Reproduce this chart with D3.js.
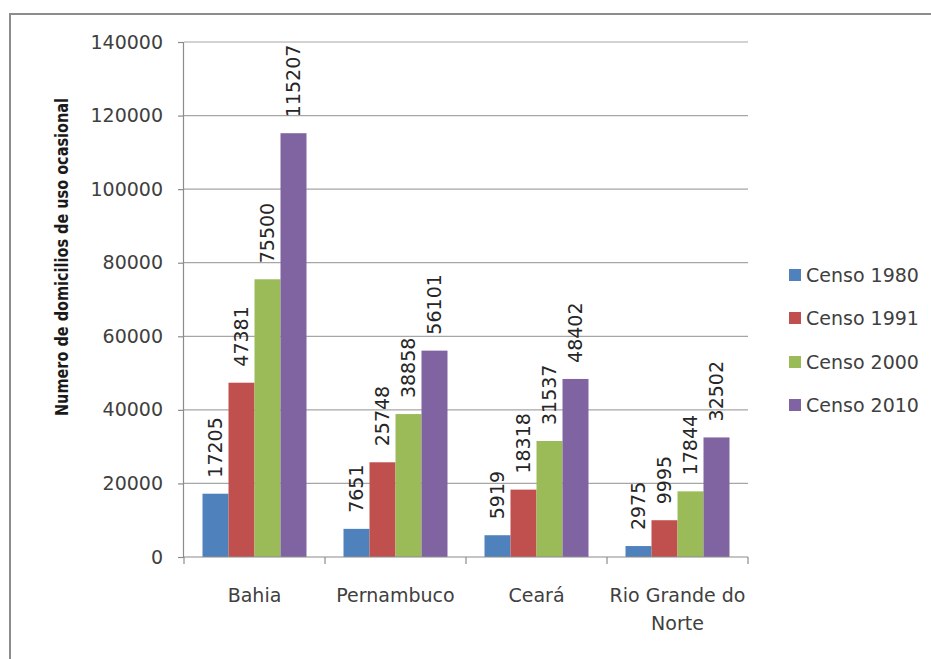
<!DOCTYPE html>
<html>
<head>
<meta charset="utf-8">
<script src="https://cdn.jsdelivr.net/npm/d3@7/dist/d3.min.js"></script>
<style>
  html, body { margin: 0; padding: 0; background: #fff; }
  svg { display: block; font-family: "DejaVu Sans", sans-serif; }
</style>
</head>
<body>
<svg id="chart" width="931" height="659"></svg>
<script>
const categories = ["Bahia", "Pernambuco", "Ceará", "Rio Grande do Norte"];
const categoryLines = [["Bahia"], ["Pernambuco"], ["Ceará"], ["Rio Grande do", "Norte"]];
const seriesNames = ["Censo 1980", "Censo 1991", "Censo 2000", "Censo 2010"];
const censo1980 = [17205, 7651, 5919, 2975];
const censo1991 = [47381, 25748, 18318, 9995];
const censo2000 = [75500, 38858, 31537, 17844];
const censo2010 = [115207, 56101, 48402, 32502];
const yTicks = [0, 20000, 40000, 60000, 80000, 100000, 120000, 140000];
const colors = ["#4F81BD", "#C0504D", "#9BBB59", "#8064A2"];
const yTitle = "Numero de domicilios de uso ocasional";

const seriesValues = [censo1980, censo1991, censo2000, censo2010];

const svg = d3.select("#chart");

// outer chart border
svg.append("rect")
  .attr("x", 10).attr("y", 14)
  .attr("width", 960).attr("height", 700)
  .attr("fill", "none")
  .attr("stroke", "#8c8c8c")
  .attr("stroke-width", 2);

const pLeft = 184, pRight = 748, pTop = 42, pBottom = 557;

const x0 = d3.scaleBand().domain(categories).range([pLeft, pRight]).padding(0);
const groupW = 104;
const x1 = d3.scaleBand().domain(seriesNames).range([0, groupW]).padding(0);
const y = d3.scaleLinear().domain([0, 140000]).range([pBottom, pTop]);

// gridlines
svg.append("g")
  .selectAll("line")
  .data(yTicks.filter(d => d > 0))
  .join("line")
  .attr("x1", pLeft).attr("x2", pRight)
  .attr("y1", d => y(d)).attr("y2", d => y(d))
  .attr("stroke", "#a6a6a6")
  .attr("stroke-width", 1.2);

// y axis
const yAxis = svg.append("g")
  .attr("transform", `translate(${pLeft - 1},0)`)
  .call(d3.axisLeft(y).tickValues(yTicks).tickFormat(d3.format("d")).tickSize(5).tickPadding(15));
yAxis.select(".domain").attr("stroke", "#8c8c8c").attr("stroke-width", 1.2);
yAxis.selectAll(".tick line").attr("stroke", "#8c8c8c").attr("stroke-width", 1.2);
yAxis.selectAll(".tick text")
  .attr("font-family", "DejaVu Sans, sans-serif")
  .attr("font-size", 19)
  .attr("fill", "#404040");

// bars
const bars = svg.append("g");
seriesNames.forEach((s, si) => {
  const vals = seriesValues[si];
  const off = (x0.bandwidth() - groupW) / 2;
  bars.append("g")
    .selectAll("rect")
    .data(categories.map((c, ci) => ({ c, v: vals[ci] })))
    .join("rect")
    .attr("x", d => x0(d.c) + off + x1(s))
    .attr("y", d => y(d.v))
    .attr("width", x1.bandwidth())
    .attr("height", d => y(0) - y(d.v))
    .attr("fill", colors[si]);

  bars.append("g")
    .selectAll("text")
    .data(categories.map((c, ci) => ({ c, v: vals[ci] })))
    .join("text")
    .attr("transform", d => `translate(${x0(d.c) + off + x1(s) + x1.bandwidth() / 2},${y(d.v) - 16}) rotate(-90)`)
    .attr("dy", "0.36em")
    .attr("text-anchor", "start")
    .attr("font-size", 19)
    .attr("fill", "#262626")
    .text(d => d.v);
});

// x axis
const xg = svg.append("g");
xg.append("line")
  .attr("x1", pLeft - 1).attr("x2", pRight)
  .attr("y1", pBottom).attr("y2", pBottom)
  .attr("stroke", "#8c8c8c").attr("stroke-width", 1.2);
const boundaries = categories.map(c => x0(c)).concat([x0(categories[categories.length - 1]) + x0.bandwidth()]);
xg.selectAll("line.tk")
  .data(boundaries)
  .join("line")
  .attr("class", "tk")
  .attr("x1", d => d).attr("x2", d => d)
  .attr("y1", pBottom).attr("y2", pBottom + 7)
  .attr("stroke", "#8c8c8c").attr("stroke-width", 1.2);

const catText = xg.selectAll("text.cat")
  .data(categories.map((c, i) => ({ c, lines: categoryLines[i] })))
  .join("text")
  .attr("class", "cat")
  .attr("text-anchor", "middle")
  .attr("font-size", 19)
  .attr("fill", "#404040");
catText.each(function(d) {
  const t = d3.select(this);
  d.lines.forEach((ln, li) => {
    t.append("tspan")
      .attr("x", x0(d.c) + x0.bandwidth() / 2)
      .attr("y", 602 + li * 28)
      .text(ln);
  });
});

// y axis title
svg.append("text")
  .attr("transform", `translate(68,257) rotate(-90)`)
  .attr("text-anchor", "middle")
  .attr("font-size", 17)
  .attr("font-weight", "bold")
  .attr("textLength", 318)
  .attr("lengthAdjust", "spacingAndGlyphs")
  .attr("fill", "#1a1a1a")
  .text(yTitle);

// legend
const legend = svg.append("g");
const legendY = [275, 318, 362, 405];
seriesNames.forEach((s, i) => {
  legend.append("rect")
    .attr("x", 789).attr("y", legendY[i] - 6)
    .attr("width", 12).attr("height", 12)
    .attr("fill", colors[i]);
  legend.append("text")
    .attr("x", 806).attr("y", legendY[i])
    .attr("dy", "0.36em")
    .attr("font-size", 19)
    .attr("fill", "#404040")
    .text(s);
});
</script>
</body>
</html>
